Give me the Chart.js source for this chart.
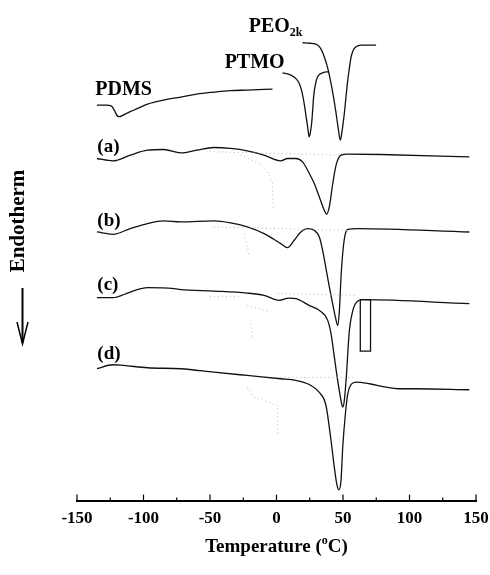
<!DOCTYPE html>
<html>
<head>
<meta charset="utf-8">
<script src="https://cdn.jsdelivr.net/npm/chart.js@4/dist/chart.umd.min.js"></script>
<style>
  html, body { margin: 0; padding: 0; background: #fff; }
  #wrap { width: 490px; height: 575px; }
</style>
</head>
<body>
<div id="wrap"><canvas id="dsc" width="490" height="575"></canvas></div>
<script>
// temperatures (deg C) and heat flow (arbitrary units, curves stacked)
const pdmsT = [-135, -128, -124, -122, -119.5, -118, -114, -110, -104, -97, -85, -72, -60, -47, -35, -22, -3];
const pdmsHF = [39.5, 39.5, 39.4, 39.0, 38.4, 38.35, 38.6, 38.85, 39.2, 39.6, 40.0, 40.3, 40.6, 40.8, 40.95, 41.0, 41.1];

const ptmoT = [4.5, 10.8, 15, 17.1, 19, 20.8, 22.2, 23.4, 24.6, 25.5, 26.4, 27.2, 27.9, 29.3, 30.9, 34.7, 39.7];
const ptmoHF = [42.73, 42.5, 42.1, 41.67, 40.9, 39.67, 38.4, 37.33, 36.33, 36.8, 37.67, 39.0, 40.33, 41.6, 42.33, 42.73, 42.83];

const peoT = [19.6, 25, 30.9, 33.5, 35.9, 38.5, 41.0, 43, 44.8, 46.5, 48, 49.5, 51, 52.3, 53.6, 55, 56.1, 57.8, 59.8, 63.6, 74.9];
const peoHF = [45.73, 45.68, 45.5, 45.1, 44.33, 43.2, 41.67, 40.2, 38.67, 37.1, 36.0, 37.1, 38.67, 40.4, 42.0, 43.4, 44.33, 45.0, 45.33, 45.5, 45.5];

const aT = [-135, -123, -110, -97, -85, -72, -60, -47, -34.5, -22, -9.4, 3.2, 8.3, 14.6, 19.6, 23.4, 28.4, 32.2, 35.9, 37.7, 39.7, 42.3, 44.8, 48.5, 53.6, 78.7, 145];
const aHF = [34.17, 33.93, 34.5, 35.0, 35.07, 34.73, 35.0, 35.27, 35.17, 34.93, 34.5, 33.93, 34.17, 34.17, 33.83, 33.0, 31.67, 30.33, 29.0, 28.6, 29.33, 31.67, 33.5, 34.5, 34.6, 34.57, 34.33];

const bT = [-135, -123, -110, -97, -85, -72, -47, -34.5, -22, -9.4, 3.2, 8.3, 13.3, 18.3, 23.4, 28.4, 32.2, 34.7, 37.2, 39.5, 42, 44.5, 46, 47.3, 48.5, 50, 51.5, 53.6, 61.1, 145];
const bHF = [26.83, 26.6, 27.17, 27.67, 27.93, 27.83, 27.93, 27.73, 27.33, 26.67, 25.67, 25.27, 26.0, 26.83, 27.17, 27.0, 26.33, 25.0, 23.2, 21.5, 19.8, 18.2, 17.5, 19.0, 22.3, 25.0, 26.5, 27.1, 27.17, 26.83];

const cT = [-135, -123, -110, -97, -77, -72, -47, -22, -9.4, 2.0, 9.5, 14.6, 24.6, 32.2, 38.5, 41, 43.5, 46, 48.5, 49.8, 51, 52.3, 54.8, 57.4, 61.1, 64.9, 145];
const cHF = [20.27, 20.27, 20.83, 21.27, 21.17, 21.07, 20.93, 20.73, 20.5, 20.0, 20.23, 20.17, 19.5, 19.0, 18.0, 16.67, 14.33, 12.0, 10.0, 9.33, 10.0, 12.0, 17.0, 19.0, 19.93, 20.07, 19.67];

const dT = [-135, -123, -115, -97, -72, -47, -22, 3.2, 14.6, 24.6, 32.2, 37.2, 41, 43.5, 45.3, 46.8, 48.5, 49.8, 51.8, 53.6, 56.1, 59.8, 69.9, 82.5, 91.3, 103.8, 145];
const dHF = [13.17, 13.57, 13.5, 13.27, 13.17, 12.83, 12.5, 12.17, 12.0, 11.6, 10.8, 9.5, 6.0, 3.3, 1.67, 1.07, 2.0, 5.33, 8.67, 10.67, 11.6, 11.83, 11.67, 11.33, 11.17, 11.17, 11.07];

// faint dotted baselines / component traces
const aBaseT = [-50, 48];
const aBaseHF = [34.85, 34.5];
const aTraceT = [-27, -12, -6, -3, -2.5];
const aTraceHF = [34.5, 33.6, 32.7, 31.7, 29.0];
const bBaseT = [-47, 54];
const bBaseHF = [27.33, 27.0];
const bTraceT = [-24.5, -22, -20.7];
const bTraceHF = [26.67, 25.5, 24.33];
const cBaseT = [1, 61];
const cBaseHF = [20.7, 20.5];
const cBase2T = [-50, -27];
const cBase2HF = [20.4, 20.4];
const cTraceT = [-22, -12, -4.3];
const cTraceHF = [19.5, 19.1, 18.83];
const cTrace2T = [-19.4, -18.1];
const cTrace2HF = [17.67, 16.33];
const dBaseT = [3, 58.6];
const dBaseHF = [12.33, 12.27];
const dTraceT = [-22, -17, 0.8, 0.8];
const dTraceHF = [11.33, 10.33, 9.5, 6.67];

// marker box beside curve (c)
const boxT = [63, 70.7, 70.7, 63, 63];
const boxHF = [20.07, 20.07, 14.93, 14.93, 20.07];

const xTicks = [-150, -100, -50, 0, 50, 100, 150];

function pts(xs, ys) {
    return xs.map((x, i) => ({ x: x, y: ys[i] }));
}

function solid(xs, ys) {
    return { data: pts(xs, ys), showLine: true, borderColor: '#111', borderWidth: 1.3, pointRadius: 0, cubicInterpolationMode: 'monotone' };
}

function dotted(xs, ys) {
    return { data: pts(xs, ys), showLine: true, borderColor: '#b5b5b5', borderWidth: 1, borderDash: [1, 3], pointRadius: 0, tension: 0 };
}

const serif = '"Liberation Serif", "DejaVu Serif", serif';

const decor = {
    id: 'decor',
    afterDraw(chart) {
        const { ctx, chartArea, scales: { x, y } } = chart;
        ctx.save();
        ctx.fillStyle = '#000';
        ctx.strokeStyle = '#000';

        // ticks pointing into the plot
        ctx.lineWidth = 1.2;
        for (let t = -150; t <= 150; t += 25) {
            const px = x.getPixelForValue(t);
            const len = t % 50 === 0 ? 6 : 3;
            ctx.beginPath();
            ctx.moveTo(px, chartArea.bottom);
            ctx.lineTo(px, chartArea.bottom - len);
            ctx.stroke();
        }

        // x title with superscript
        const big = 'bold 19px ' + serif;
        const sup = 'bold 12px ' + serif;
        ctx.font = big;
        const w1 = ctx.measureText('Temperature (').width;
        const w3 = ctx.measureText('C)').width;
        ctx.font = sup;
        const w2 = ctx.measureText('o').width;
        let tx = (chartArea.left + chartArea.right) / 2 - (w1 + w2 + w3) / 2;
        const ty = 552;
        ctx.textAlign = 'left';
        ctx.textBaseline = 'alphabetic';
        ctx.font = big;
        ctx.fillText('Temperature (', tx, ty);
        tx += w1;
        ctx.font = sup;
        ctx.fillText('o', tx, ty - 8);
        tx += w2;
        ctx.font = big;
        ctx.fillText('C)', tx, ty);

        // curve names
        ctx.font = 'bold 20px ' + serif;
        ctx.fillText('PDMS', x.getPixelForValue(-136.3), y.getPixelForValue(40.5));
        ctx.fillText('PTMO', x.getPixelForValue(-39), y.getPixelForValue(43.2));
        const peoX = x.getPixelForValue(-20.9);
        const peoY = y.getPixelForValue(46.8);
        ctx.fillText('PEO', peoX, peoY);
        const peoW = ctx.measureText('PEO').width;
        ctx.font = 'bold 12px ' + serif;
        ctx.fillText('2k', peoX + peoW, peoY + 4);

        ctx.font = 'bold 19px ' + serif;
        ctx.fillText('(a)', x.getPixelForValue(-134.7), y.getPixelForValue(34.8));
        ctx.fillText('(b)', x.getPixelForValue(-134.7), y.getPixelForValue(27.4));
        ctx.fillText('(c)', x.getPixelForValue(-134.7), y.getPixelForValue(21.0));
        ctx.fillText('(d)', x.getPixelForValue(-134.7), y.getPixelForValue(14.1));

        // y label + arrow
        ctx.save();
        ctx.translate(19, 221);
        ctx.rotate(-Math.PI / 2);
        ctx.font = 'bold 21px ' + serif;
        ctx.textAlign = 'center';
        ctx.textBaseline = 'middle';
        ctx.fillText('Endotherm', 0, 0);
        ctx.restore();

        ctx.lineWidth = 2;
        ctx.beginPath();
        ctx.moveTo(22.5, 288);
        ctx.lineTo(22.5, 343);
        ctx.stroke();
        ctx.lineWidth = 1.5;
        ctx.beginPath();
        ctx.moveTo(17, 322);
        ctx.lineTo(22.5, 344);
        ctx.lineTo(28, 322);
        ctx.stroke();
        ctx.restore();
    }
};

const datasets = [
    solid(pdmsT, pdmsHF),
    solid(ptmoT, ptmoHF),
    solid(peoT, peoHF),
    dotted(aBaseT, aBaseHF),
    dotted(aTraceT, aTraceHF),
    dotted(bBaseT, bBaseHF),
    dotted(bTraceT, bTraceHF),
    dotted(cBaseT, cBaseHF),
    dotted(cBase2T, cBase2HF),
    dotted(cTraceT, cTraceHF),
    dotted(cTrace2T, cTrace2HF),
    dotted(dBaseT, dBaseHF),
    dotted(dTraceT, dTraceHF),
    solid(aT, aHF),
    solid(bT, bHF),
    solid(cT, cHF),
    solid(dT, dHF),
    { data: pts(boxT, boxHF), showLine: true, borderColor: '#111', borderWidth: 1.3, pointRadius: 0, tension: 0 }
];

new Chart(document.getElementById('dsc').getContext('2d'), {
    type: 'scatter',
    data: { datasets },
    options: {
        responsive: false,
        animation: false,
        events: [],
        layout: { padding: { left: 77, right: 14, top: 0, bottom: 38 } },
        plugins: { legend: { display: false }, tooltip: { enabled: false } },
        scales: {
            x: {
                type: 'linear',
                min: -150,
                max: 150,
                afterBuildTicks: (axis) => { axis.ticks = xTicks.map(v => ({ value: v })); },
                afterFit: (axis) => { axis.paddingLeft = 0; axis.paddingRight = 0; },
                ticks: { color: '#000', padding: 8, font: { family: serif, weight: 'bold', size: 17 } },
                grid: { drawOnChartArea: false, drawTicks: false },
                border: { color: '#000', width: 2 }
            },
            y: { display: false, min: 0, max: 50 }
        }
    },
    plugins: [decor]
});
</script>
</body>
</html>
